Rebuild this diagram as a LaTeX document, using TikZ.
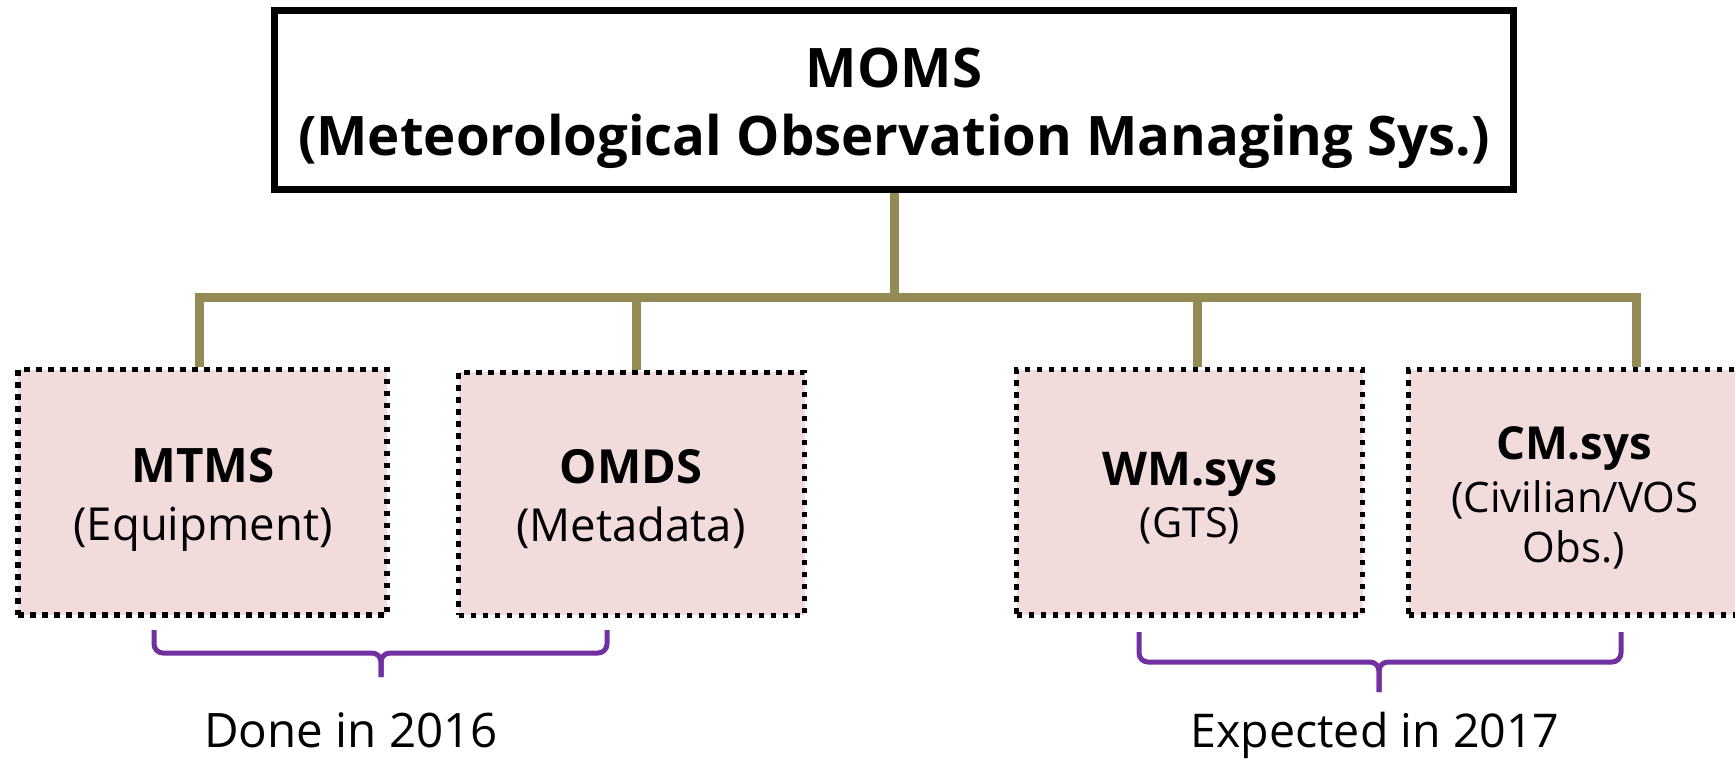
\documentclass[tikz,border=0pt]{standalone}
\usepackage{fontspec}
\setmainfont{Open Sans}
\definecolor{busolive}{HTML}{948A54}
\definecolor{boxpink}{HTML}{F2DCDB}
\definecolor{bracepurple}{HTML}{7030A0}
\newcommand{\fs}[1]{\fontsize{#1}{#1}\selectfont}
\tikzset{
  topbox/.style={draw=black, line width=7pt, fill=white, minimum width=1239pt, minimum height=179pt, inner sep=0pt},
  subbox/.style={draw=black, line width=5.5pt, dash pattern=on 5.5pt off 6.5pt, fill=boxpink, minimum width=346pt, minimum height=243pt, inner sep=0pt},
  busline/.style={draw=busolive, line width=9pt},
  bracepath/.style={draw=bracepurple, line width=5pt, rounded corners=9pt},
  txt/.style={anchor=base, inner sep=0pt, outer sep=0pt}
}
\begin{document}
\begin{tikzpicture}[x=1pt,y=-1pt]
\useasboundingbox (0,0) rectangle (1735,758);
\clip (0,0) rectangle (1735,758);
% top box
\node[topbox] (moms) at (894,100) {};
\node[txt] (momsA) at (894,87) {\fs{54.5}\bfseries MOMS};
\node[txt] (momsB) at (894,155) {\fs{54.5}\bfseries (Meteorological Observation Managing Sys.)};
% sub boxes
\node[subbox, minimum width=369pt, minimum height=245.5pt] (mtms) at (202.5,492.25) {};
\node[subbox] (omds) at (631.5,493.75) {};
\node[subbox, minimum height=245.5pt] (wm) at (1189.5,492.25) {};
\node[subbox, minimum height=245.5pt] (cm) at (1581.5,492.25) {};
% texts
\node[txt] (mtmsA) at (203,482) {\fs{47.5}\bfseries MTMS};
\node[txt] (mtmsB) at (203,540) {\fs{45.5}(Equipment)};
\node[txt] (omdsA) at (631,483) {\fs{47}\bfseries OMDS};
\node[txt] (omdsB) at (631,541) {\fs{45.5}(Metadata)};
\node[txt] (wmA) at (1190,485) {\fs{46.5}\bfseries WM.sys};
\node[txt] (wmB) at (1190,537) {\fs{41.5}(GTS)};
\node[txt] (cmA) at (1574,459) {\fs{45.5}\bfseries CM.sys};
\node[txt] (cmB) at (1575,512) {\fs{42}(Civilian/VOS};
\node[txt] (cmC) at (1574,562) {\fs{42}Obs.)};
% connectors
\coordinate (hub) at (894.5,297.5);
\coordinate (d1) at (199.5,297.5);
\coordinate (d2) at (636,297.5);
\coordinate (d3) at (1197,297.5);
\coordinate (d4) at (1636.5,297.5);
\draw[busline] (moms.south -| hub) -- (hub);
\draw[busline] ([xshift=-4.5pt]d1) -- ([xshift=4.5pt]d4);
\draw[busline] (d1) -- (d1 |- mtms.north);
\draw[busline] (d2) -- (d2 |- omds.north);
\draw[busline] (d3) -- (d3 |- wm.north);
\draw[busline] (d4) -- (d4 |- cm.north);
% braces
\draw[bracepath] (154,630) -- (154,653) -- (381,653) -- (381,677);
\draw[bracepath] (607,630) -- (607,653) -- (381,653) -- (381,677);
\draw[bracepath] (1139,632) -- (1139,662) -- (1379,662) -- (1379,692);
\draw[bracepath] (1621,632) -- (1621,662) -- (1379,662) -- (1379,692);
\node[txt] (done) at (351,747) {\fs{47.5}Done in 2016};
\node[txt] (exp) at (1375,747) {\fs{46.5}Expected in 2017};
\end{tikzpicture}
\end{document}
